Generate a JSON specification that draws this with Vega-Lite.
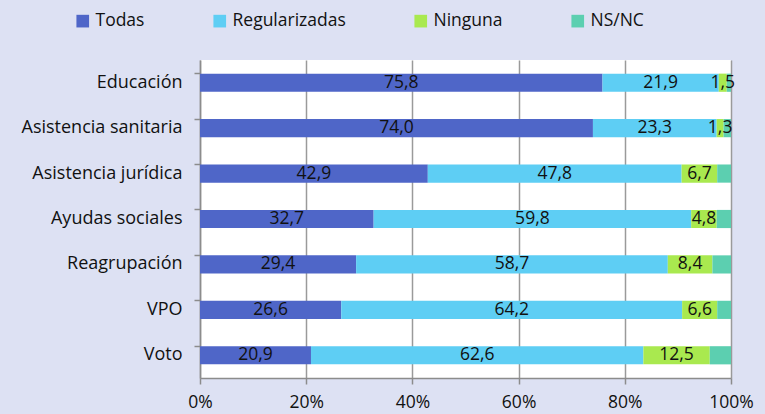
{
  "$schema": "https://vega.github.io/schema/vega-lite/v6.json",
  "width": 531,
  "height": 318,
  "autosize": {"type": "none"},
  "padding": {"left": 200, "top": 60, "right": 34, "bottom": 36},
  "background": "#dde1f3",
  "config": {
    "view": {"fill": "white", "stroke": null},
    "font": "Open Sans",
    "locale": {"number": {"decimal": ",", "thousands": ".", "grouping": [3], "currency": ["", " €"]}}
  },
  "data": {
    "values": [
      {"cat": "Educación", "grupo": "Todas", "orden": 1, "valor": 75.8},
      {"cat": "Educación", "grupo": "Regularizadas", "orden": 2, "valor": 21.9},
      {"cat": "Educación", "grupo": "Ninguna", "orden": 3, "valor": 1.5},
      {"cat": "Educación", "grupo": "NS/NC", "orden": 4, "valor": 0.8},
      {"cat": "Asistencia sanitaria", "grupo": "Todas", "orden": 1, "valor": 74.0},
      {"cat": "Asistencia sanitaria", "grupo": "Regularizadas", "orden": 2, "valor": 23.3},
      {"cat": "Asistencia sanitaria", "grupo": "Ninguna", "orden": 3, "valor": 1.3},
      {"cat": "Asistencia sanitaria", "grupo": "NS/NC", "orden": 4, "valor": 1.4},
      {"cat": "Asistencia jurídica", "grupo": "Todas", "orden": 1, "valor": 42.9},
      {"cat": "Asistencia jurídica", "grupo": "Regularizadas", "orden": 2, "valor": 47.8},
      {"cat": "Asistencia jurídica", "grupo": "Ninguna", "orden": 3, "valor": 6.7},
      {"cat": "Asistencia jurídica", "grupo": "NS/NC", "orden": 4, "valor": 2.6},
      {"cat": "Ayudas sociales", "grupo": "Todas", "orden": 1, "valor": 32.7},
      {"cat": "Ayudas sociales", "grupo": "Regularizadas", "orden": 2, "valor": 59.8},
      {"cat": "Ayudas sociales", "grupo": "Ninguna", "orden": 3, "valor": 4.8},
      {"cat": "Ayudas sociales", "grupo": "NS/NC", "orden": 4, "valor": 2.7},
      {"cat": "Reagrupación", "grupo": "Todas", "orden": 1, "valor": 29.4},
      {"cat": "Reagrupación", "grupo": "Regularizadas", "orden": 2, "valor": 58.7},
      {"cat": "Reagrupación", "grupo": "Ninguna", "orden": 3, "valor": 8.4},
      {"cat": "Reagrupación", "grupo": "NS/NC", "orden": 4, "valor": 3.5},
      {"cat": "VPO", "grupo": "Todas", "orden": 1, "valor": 26.6},
      {"cat": "VPO", "grupo": "Regularizadas", "orden": 2, "valor": 64.2},
      {"cat": "VPO", "grupo": "Ninguna", "orden": 3, "valor": 6.6},
      {"cat": "VPO", "grupo": "NS/NC", "orden": 4, "valor": 2.6},
      {"cat": "Voto", "grupo": "Todas", "orden": 1, "valor": 20.9},
      {"cat": "Voto", "grupo": "Regularizadas", "orden": 2, "valor": 62.6},
      {"cat": "Voto", "grupo": "Ninguna", "orden": 3, "valor": 12.5},
      {"cat": "Voto", "grupo": "NS/NC", "orden": 4, "valor": 4.0}
    ]
  },
  "encoding": {
    "y": {
      "field": "cat", "type": "nominal", "sort": null,
      "scale": {"paddingInner": 0.6, "paddingOuter": 0.3},
      "axis": {
        "title": null, "bandPosition": 0, "labelFontSize": 18, "labelColor": "#111",
        "labelPadding": 12, "domainColor": "#8c8c8c", "domainWidth": 1.5,
        "tickColor": "#8c8c8c", "tickWidth": 1.5, "tickSize": 6, "grid": false
      }
    }
  },
  "layer": [
    {
      "mark": {"type": "bar"},
      "encoding": {
        "x": {
          "field": "valor", "type": "quantitative", "stack": "zero",
          "scale": {"domain": [0, 100], "nice": false},
          "axis": {
            "title": null, "values": [0, 20, 40, 60, 80, 100],
            "labelExpr": "datum.value + '%'", "labelFontSize": 17.5, "labelColor": "#111",
            "labelPadding": 9, "labelFlush": false,
            "grid": true, "gridColor": "#9a9a9a", "gridWidth": 1.5,
            "domainColor": "#8c8c8c", "domainWidth": 1.5,
            "tickColor": "#8c8c8c", "tickWidth": 1.5, "tickSize": 6
          }
        },
        "color": {
          "field": "grupo", "type": "nominal",
          "scale": {"domain": ["Todas", "Regularizadas", "Ninguna", "NS/NC"], "range": ["#4f66c8", "#5ecef4", "#a9e94f", "#5ccfb0"]},
          "legend": {
            "title": null, "orient": "none", "direction": "horizontal",
            "legendX": -126, "legendY": -48,
            "symbolType": "square", "symbolSize": 160, "symbolStrokeWidth": 0,
            "labelFontSize": 17.5, "labelColor": "#111", "labelOffset": 4,
            "columnPadding": 66
          }
        },
        "order": {"field": "orden", "type": "quantitative"}
      }
    },
    {
      "transform": [{"filter": "datum.grupo !== 'NS/NC'"}],
      "mark": {"type": "text", "fontSize": 17.5, "color": "#111", "align": "center", "baseline": "middle"},
      "encoding": {
        "x": {"field": "valor", "type": "quantitative", "stack": "zero", "bandPosition": 0.5},
        "text": {"field": "valor", "type": "quantitative", "format": ".1f"},
        "detail": {"field": "grupo"},
        "order": {"field": "orden", "type": "quantitative"}
      }
    }
  ]
}
